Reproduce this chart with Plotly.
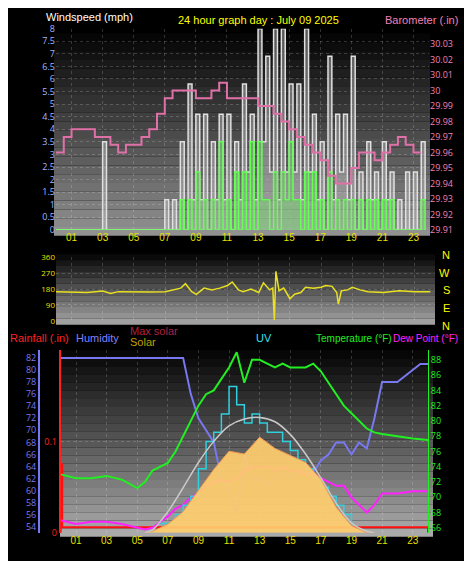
import plotly.graph_objects as go

W, H = 472, 561
def px(x): return x / W
def py(y): return 1 - y / H

half = [i * 0.5 for i in range(48)]
hour_ticks = list(range(1, 24, 2))
hour_labels = ["%02d" % h for h in hour_ticks]

gust_hi = [0,0,0,0,0,0,3.5,0,0,0,0,0,0,0,1.2,1.2,3.5,5.8,4.6,4.6,3.5,4.6,4.6,3.5,5.8,4.6,8,6.9,8,8,5.8,5.8,8,4.6,3.5,6.9,4.6,4.6,6.9,2.3,3.5,2.3,3.5,2.3,1.2,2.3,2.3,3.5]
gust_lo = [0,0,0,0,0,0,0,0,0,0,0,0,0,0,0,0,0,1.2,1.2,0,1.2,1.2,0,1.2,2.3,1.2,3.5,2.3,1.2,2.3,2.3,1.2,2.3,1.2,0,1.2,2.3,1.2,0,0,1.2,0,1.2,0,0,0,0,1.2]
avg_hi = [0,0,0,0,0,0,0,0,0,0,0,0,0,0,0,0,1.2,1.2,2.3,1.2,1.2,3.5,1.2,2.3,2.3,3.5,3.5,1.2,2.3,2.3,3.5,1.2,2.3,2.3,1.2,2.3,1.2,1.2,1.2,1.2,1.2,1.2,1.2,1.2,0,0,0,1.2]
avg_lo = [0,0,0,0,0,0,0,0,0,0,0,0,0,0,0,0,0,0,0,0,0,0,0,0,0,0,1.2,0,0,1.2,1.2,0,0,0,0,0,0,0,0,0,0,0,0,0,0,0,0,0]
baro = [29.96,29.97,29.975,29.975,29.975,29.97,29.97,29.965,29.96,29.965,29.965,29.97,29.975,29.985,29.995,30.0,30.0,30.0,29.995,29.995,30.0,30.005,29.995,29.995,29.995,29.995,29.99,29.99,29.985,29.98,29.975,29.97,29.965,29.96,29.955,29.945,29.94,29.94,29.95,29.96,29.96,29.955,29.96,29.965,29.97,29.965,29.96,29.96]

dir_hours = [0,1,2,3,3.5,4,5,6,7,7.5,8,8.3,8.7,9,9.5,10,10.5,11,11.3,11.7,12,12.5,13,13.3,13.7,13.9,14.0,14.1,14.3,14.6,15,15.3,15.7,16,16.5,17,17.3,17.7,18,18.1,18.3,18.7,19,19.5,20,21,22,23,24]
dir_vals = [165,163,160,168,155,165,162,163,165,175,185,210,165,150,185,175,185,200,220,175,165,180,160,215,175,185,5,280,170,185,125,150,160,190,185,190,200,195,160,95,170,175,190,175,165,160,170,165,165]

hum_h = [0,8,8.5,9,9.5,10,10.5,11,11.5,12,12.5,13,13.5,14,14.5,15,15.5,16,16.5,17,17.5,18,18.5,19,19.5,20,20.5,21,21.5,22,22.5,23,23.5,24]
hum = [82,82,76,72,70,68,62,60,56,66,62,62,61,62,63,62,63,63,63,65,66,68,68,66,68,67,72,78,78,78,79,80,81,81]
temp_h = [0,1,2,3,4,5,5.5,6,7,7.5,8,8.5,9,9.5,10,10.5,11,11.5,12,12.5,13,13.5,14,14.5,15,15.5,16,16.5,17,17.5,18,18.5,19,19.5,20,20.5,21,22,23,24]
temp = [73,72.5,72.5,72.8,72.3,71.2,72,73.5,74.5,76,78,80,82,83.5,84,85.5,87,89,85,88,88,87.5,87,87.5,87,87,87,87.5,86.5,85,83.5,82,81,80,79,78.5,78.3,78,77.7,77.5]
dew = [67,66.5,66.8,66.8,66.5,66,65.8,66,67.5,68.5,69,70,70.5,71.5,72,72.3,72,72.5,73.5,74,74,74,73.5,74,73.5,73.5,73,73,72.5,72,71.5,71.5,70,69,68,69,70.5,70.5,70.8,70.8]
uv_h = [6.5,7,7.5,8,8.5,9,9.5,10,10.5,11,11.5,12,12.5,13,13.5,14,14.5,15,15.5,16,16.5,17,17.5,18,18.5,19]
uv = [0.5,0.5,1,1.5,2,3.5,5,5.5,6.5,8,7,6,6.5,6,5.5,5.5,5,4.5,4,3.5,3,2.5,2,1.5,1,0]
sol_h = [5.5,6,7,8,9,10,11,12,13,14,15,16,17,18,19,20,20.5]
maxsolar = [0,20,150,320,500,650,760,810,820,790,700,560,390,210,70,10,0]
solar = [0,10,60,150,300,450,580,560,680,600,550,500,380,180,50,0,0]
rain_h = [0,0,0.1,0.1,5,5,24,24]
rain = [0,0.075,0.075,0.006,0.006,0.006,0.006,0]

fig = go.Figure()
xs_g, ys_g, xs_a, ys_a = [], [], [], []
for t, a, b in zip(half, gust_hi, gust_lo):
    xs_g += [t, t + 0.25]; ys_g += [a, b]
for t, a, b in zip(half, avg_hi, avg_lo):
    xs_a += [t, t + 0.25]; ys_a += [a, b]
fig.add_trace(go.Scatter(x=xs_g, y=ys_g, mode="lines", fill="tozeroy", fillcolor="rgba(190,190,190,0.45)",
                         line=dict(color="#e0e0e0", width=1.5, shape="hv"), xaxis="x", yaxis="y"))
fig.add_trace(go.Scatter(x=xs_a, y=ys_a, mode="lines", fill="tozeroy", fillcolor="rgba(100,230,90,0.35)",
                         line=dict(color="#66ff55", width=1.5, shape="hv"), xaxis="x", yaxis="y"))
fig.add_trace(go.Scatter(x=half, y=baro, mode="lines", line=dict(color="#e070a8", width=2, shape="hv"), xaxis="x", yaxis="y2"))
fig.add_trace(go.Scatter(x=dir_hours, y=dir_vals, mode="lines", line=dict(color="#e8e020", width=1.5), xaxis="x2", yaxis="y3"))
fig.add_trace(go.Scatter(x=sol_h, y=solar, mode="lines", fill="tozeroy", line=dict(color="#f59a50", width=1), fillcolor="rgba(255,205,110,0.92)", xaxis="x3", yaxis="y8"))
fig.add_trace(go.Scatter(x=sol_h, y=maxsolar, mode="lines", line=dict(color="#c8c8c8", width=1.5, shape="spline"), xaxis="x3", yaxis="y8"))
fig.add_trace(go.Scatter(x=uv_h, y=uv, mode="lines", line=dict(color="#30d0e0", width=1.5, shape="hv"), xaxis="x3", yaxis="y7"))
fig.add_trace(go.Scatter(x=hum_h, y=hum, mode="lines", line=dict(color="#7878f0", width=2), xaxis="x3", yaxis="y4"))
fig.add_trace(go.Scatter(x=temp_h, y=temp, mode="lines", line=dict(color="#22ee22", width=2), xaxis="x3", yaxis="y6"))
fig.add_trace(go.Scatter(x=temp_h, y=dew, mode="lines", line=dict(color="#ff22ff", width=2), xaxis="x3", yaxis="y6"))
fig.add_trace(go.Scatter(x=rain_h, y=rain, mode="lines", line=dict(color="#ff1010", width=2), xaxis="x3", yaxis="y5"))

grid = dict(gridcolor="rgba(255,255,255,0.18)", griddash="dot", zeroline=False)
yel = dict(size=10, family="Liberation Sans", color="#e8e000")

shapes = []
def grad(x0, x1, y0, y1, top, bot, n=24):
    for i in range(n):
        f = i / (n - 1)
        c = tuple(int(top[k] + (bot[k] - top[k]) * f) for k in range(3))
        shapes.append(dict(type="rect", xref="paper", yref="paper", x0=px(x0), x1=px(x1),
                           y0=py(y0 + (y1 - y0) * (i + 1) / n), y1=py(y0 + (y1 - y0) * i / n),
                           fillcolor="rgb(%d,%d,%d)" % c, line=dict(width=0), layer="below"))
grad(46, 422, 10, 226, (0, 0, 0), (145, 145, 145))
grad(48, 427, 245, 317, (10, 10, 10), (160, 160, 160), 12)
grad(52, 425, 335, 534, (0, 0, 0), (170, 170, 170))

fig.update_layout(
    width=W, height=H, margin=dict(l=0, r=0, t=0, b=0), paper_bgcolor="black", plot_bgcolor="rgba(0,0,0,0)",
    showlegend=False, shapes=shapes,
    xaxis=dict(domain=[px(48), px(421)], range=[0, 24], tickvals=hour_ticks, ticktext=hour_labels, tickfont=yel, anchor="y", **grid),
    yaxis=dict(domain=[py(220), py(14)], range=[0, 8], dtick=0.5, tickfont=dict(size=9, color="#a0b8ff"), anchor="x", **grid),
    yaxis2=dict(overlaying="y", side="right", range=[29.91, 30.04], tickfont=dict(size=9, color="#f080b8"), showgrid=False, zeroline=False, anchor="x",
                tickvals=[29.91,29.92,29.93,29.94,29.95,29.96,29.97,29.98,29.99,30.0,30.01,30.02,30.03],
                ticktext=["29.91","29.92","29.93","29.94","29.95","29.96","29.97","29.98","29.99","30","30.01","30.02","30.03"]),
    xaxis2=dict(domain=[px(48), px(427)], range=[0, 24.3], showticklabels=False, anchor="y3", **grid, tickvals=hour_ticks),
    yaxis3=dict(domain=[py(313), py(248)], range=[0, 360], tickvals=[0, 90, 180, 270, 360], tickfont=dict(size=8, color="#e8e000"), anchor="x2", **grid),
    xaxis3=dict(domain=[px(52.7), px(420)], range=[0, 24], tickvals=hour_ticks, ticktext=hour_labels, tickfont=yel, anchor="y5", **grid),
    yaxis4=dict(domain=[py(530), py(343)], range=[53.03, 83.3], dtick=2, tickfont=dict(size=9, color="#7878f0"), anchor="free", position=px(31), showline=True, linecolor="#7878f0", linewidth=2, showgrid=False, zeroline=False, overlaying="y5"),
    yaxis5=dict(domain=[py(530), py(343)], range=[0, 0.2], tickvals=[0, 0.1], ticktext=["0", "0.1"], tickfont=dict(size=9, color="#ff2020"), anchor="x3", showline=True, linecolor="#ff2020", linewidth=2, **grid),
    yaxis6=dict(overlaying="y5", side="right", range=[65.36, 89.28], dtick=2, tickfont=dict(size=9, color="#22ee22"), anchor="x3", showline=True, linecolor="#22ee22", showgrid=False, zeroline=False),
    yaxis7=dict(overlaying="y5", range=[0, 10], visible=False),
    yaxis8=dict(overlaying="y5", range=[0, 1300], visible=False),
)
ann = [
    (36, 2, "Windspeed (mph)", "#ffffff", "left", 11), (250, 5, "24 hour graph day : July 09 2025", "#ffff00", "center", 11),
    (452, 5, "Barometer (.in)", "#f080b8", "right", 11),
    (0, 331, "Rainfall (.in)", "#ff2020", "left", 11), (66, 331, "Humidity", "#8080ff", "left", 11),
    (120, 323, "Max solar", "#b02040", "left", 11), (120, 335, "Solar", "#c0a000", "left", 11),
    (256, 331, "UV", "#30e0f0", "center", 11), (306, 331, "Temperature (°F)", "#22ee22", "left", 10),
    (452, 331, "Dew Point (°F)", "#ff22ff", "right", 10),
]
for x, y, t, c, a, s in ann:
    fig.add_annotation(x=px(x), y=py(y), xref="paper", yref="paper", text=t, showarrow=False, xanchor=a, yanchor="middle",
                       font=dict(size=s, color=c, family="Liberation Sans"))
for y, t in zip([246, 264, 282, 300, 318], ["N", "W", "S", "E", "N"]):
    fig.add_annotation(x=px(444), y=py(y), xref="paper", yref="paper", text=t, showarrow=False,
                       font=dict(size=11, color="#ffff00", family="Liberation Sans"))
fig.write_html("out.html")
